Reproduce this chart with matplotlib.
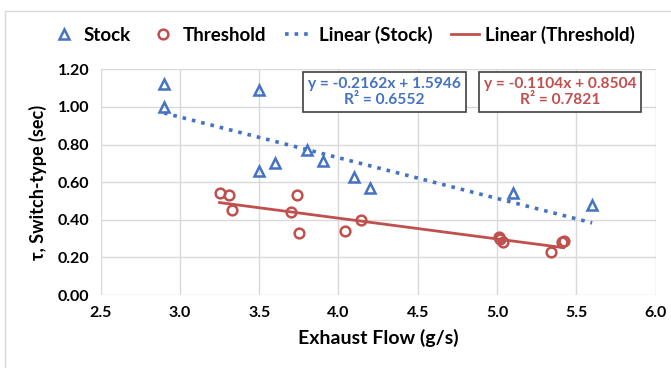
import numpy as np
import matplotlib.pyplot as plt
from matplotlib.patches import Rectangle

plt.rcParams['font.family'] = ['Lato', 'DejaVu Sans']
plt.rcParams['font.weight'] = 'bold'

# exhaust flow (g/s) and time constant (sec)
stock_x = [2.9, 2.9, 3.5, 3.5, 3.6, 3.8, 3.9, 4.1, 4.2, 5.1, 5.6]
stock_y = [1.12, 1.00, 1.09, 0.66, 0.70, 0.77, 0.71, 0.63, 0.57, 0.54, 0.48]
thresh_x = [3.25, 3.31, 3.33, 3.74, 3.70, 3.75, 4.04, 4.14, 5.01, 5.02, 5.04, 5.34, 5.42, 5.41]
thresh_y = [0.54, 0.53, 0.45, 0.53, 0.44, 0.33, 0.34, 0.40, 0.31, 0.30, 0.28, 0.23, 0.29, 0.28]

# trendline coefficients
stock_fit = (-0.2162, 1.5946, 0.6552)
thresh_fit = (-0.1104, 0.8504, 0.7821)

blue = '#4472C4'
red = '#C0504D'

fig = plt.figure(figsize=(6.71, 3.68), dpi=100)
ax = fig.add_axes([0.150, 0.198, 0.827, 0.614])

ax.plot(stock_x, stock_y, '^', mfc='none', mec=blue, mew=1.8, ms=7,
        label='Stock', zorder=4)
ax.plot(thresh_x, thresh_y, 'o', mfc='none', mec=red, mew=1.8, ms=7,
        label='Threshold', zorder=4)

xs = np.array([min(stock_x), max(stock_x)])
ax.plot(xs, stock_fit[0] * xs + stock_fit[1], ':', color=blue, lw=2.6,
        label='Linear (Stock)', zorder=3)
xt = np.array([min(thresh_x), max(thresh_x)])
ax.plot(xt, thresh_fit[0] * xt + thresh_fit[1], '-', color=red, lw=2,
        label='Linear (Threshold)', zorder=3)

ax.set_xlim(2.5, 6.0)
ax.set_ylim(0, 1.2)
ticks_x = np.arange(2.5, 6.01, 0.5)
ticks_y = np.arange(0, 1.21, 0.2)
ax.set_xticks(ticks_x)
ax.set_yticks(ticks_y)
ax.set_xticklabels(['%.1f' % v for v in ticks_x], fontweight='bold')
ax.set_yticklabels(['%.2f' % v for v in ticks_y], fontweight='bold')
ax.tick_params(length=0, labelsize=11.5, pad=8)
ax.grid(True, color='#D9D9D9', lw=1)
for s in ax.spines.values():
    s.set_visible(False)

ax.set_xlabel('Exhaust Flow (g/s)', fontsize=14, fontweight='bold', labelpad=6)
ax.set_ylabel('τ, Switch-type (sec)', fontsize=13, fontweight='bold', labelpad=8)

# equation boxes
for fit, col, xc in [(stock_fit, blue, 0.573), (thresh_fit, red, 0.835)]:
    txt = 'y = %.4fx + %.4f\nR² = %.4f' % (fit[0], fit[1], fit[2])
    fig.text(xc, 0.75, txt, color=col, fontsize=11.2, fontweight='bold',
             ha='center', va='center', linespacing=1.2, zorder=5,
             bbox=dict(boxstyle='square,pad=0.3', fc='white', ec='#404040', lw=1.2))

fig.legend(loc='center', bbox_to_anchor=(0.51, 0.905), ncol=4, frameon=False,
           fontsize=13.5, handlelength=1.5, handletextpad=0.3, columnspacing=1.0,
           borderaxespad=0)

fig.add_artist(Rectangle((0.008, -0.05), 1.2, 1.02, transform=fig.transFigure,
                         fill=False, ec='#D9D9D9', lw=1))

fig.savefig('out.png', dpi=100)
